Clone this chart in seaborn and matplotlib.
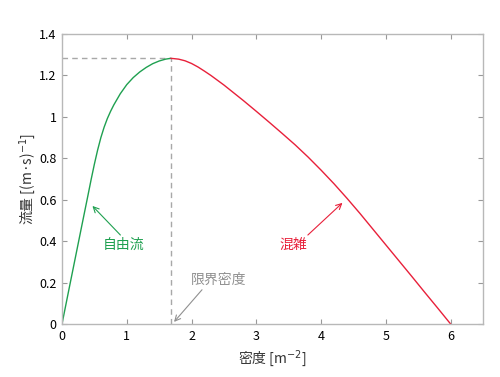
"""
歩行者の基本図（密度-流量関係）：自由流と混雑の領域、限界密度を示す。
"""

import pandas as pd
import matplotlib.pyplot as plt
import seaborn as sns
from matplotlib.ticker import FormatStrFormatter

# 図から読み取った値
free_density = [0.0, 0.1, 0.2, 0.3, 0.4, 0.45, 0.5, 0.55, 0.6, 0.65, 0.7, 0.75,
                0.8, 0.9, 1.0, 1.1, 1.2, 1.3, 1.4, 1.5, 1.6, 1.68]
free_flow = [0.0, 0.156, 0.311, 0.466, 0.62, 0.698, 0.772, 0.84, 0.90, 0.95,
             0.992, 1.027, 1.058, 1.112, 1.156, 1.19, 1.217, 1.239, 1.257,
             1.27, 1.279, 1.283]

jam_density = [1.68, 1.8, 1.9, 2.0, 2.1, 2.2, 2.3, 2.4, 2.5, 2.6, 2.8, 3.0,
               3.2, 3.4, 3.6, 3.8, 4.0, 4.2, 4.4, 4.6, 4.8, 5.0, 5.2, 5.4,
               5.6, 5.8, 6.0]
jam_flow = [1.283, 1.279, 1.271, 1.258, 1.241, 1.221, 1.2, 1.177, 1.154, 1.129,
            1.079, 1.027, 0.974, 0.920, 0.865, 0.806, 0.743, 0.677, 0.607,
            0.534, 0.458, 0.382, 0.306, 0.230, 0.153, 0.077, 0.0]

critical_density = 1.68
max_flow = 1.283

x_ticks = [0, 1, 2, 3, 4, 5, 6]
y_ticks = [0, 0.2, 0.4, 0.6, 0.8, 1.0, 1.2, 1.4]

free_df = pd.DataFrame({'density': free_density, 'flow': free_flow})
jam_df = pd.DataFrame({'density': jam_density, 'flow': jam_flow})

sns.set_theme(style="ticks")
plt.rcParams['font.family'] = ['Noto Sans CJK JP', 'DejaVu Sans']
plt.rcParams['mathtext.fontset'] = 'dejavusans'

green = '#1fa050'
red = '#e8203a'
gray = '#a8a8a8'

fig = plt.figure(figsize=(5, 3.77), dpi=100)
ax = fig.add_axes([0.124, 0.1406, 0.842, 0.769])

# 限界密度の補助線
ax.plot([0, critical_density], [max_flow, max_flow], ls=(0, (4, 3)), color=gray, lw=1)
ax.plot([critical_density, critical_density], [0, max_flow], ls=(0, (4, 3)), color=gray, lw=1)

sns.lineplot(data=free_df, x='density', y='flow', color=green, lw=1, ax=ax, sort=False)
sns.lineplot(data=jam_df, x='density', y='flow', color=red, lw=1, ax=ax, sort=False)

ax.set_xlim(0, 6.5)
ax.set_ylim(0, 1.4)
ax.set_xticks(x_ticks)
ax.set_yticks(y_ticks)
ax.yaxis.set_major_formatter(FormatStrFormatter('%g'))

for s in ax.spines.values():
    s.set_color('#b8b8b8')
    s.set_linewidth(1)
ax.tick_params(direction='in', length=3.5, width=0.8, color='#999999',
               top=True, right=True, labelsize=9, labelcolor='black', pad=4)

ax.set_xlabel(r'密度 [m$^{-2}$]', fontsize=10, color='#333333', labelpad=4)
ax.set_ylabel(r'流量 [(m·s)$^{-1}$]', fontsize=10, color='#333333', labelpad=1)

arrow = dict(arrowstyle='->', lw=0.8, shrinkA=0, shrinkB=0)
ax.annotate('自由流', xy=(0.47, 0.57), xytext=(0.95, 0.38), color=green,
            fontsize=10, ha='center', va='center',
            arrowprops=dict(arrow, color=green, relpos=(0.5, 1.0)))
ax.annotate('混雑', xy=(4.33, 0.585), xytext=(3.57, 0.38), color=red,
            fontsize=10, ha='center', va='center',
            arrowprops=dict(arrow, color=red, relpos=(0.9, 1.0)))
ax.annotate('限界密度', xy=(1.73, 0.01), xytext=(2.42, 0.215), color='#909090',
            fontsize=10, ha='center', va='center',
            arrowprops=dict(arrow, color='#909090', relpos=(0.25, 0.0)))

plt.savefig('out.png', dpi=100)
